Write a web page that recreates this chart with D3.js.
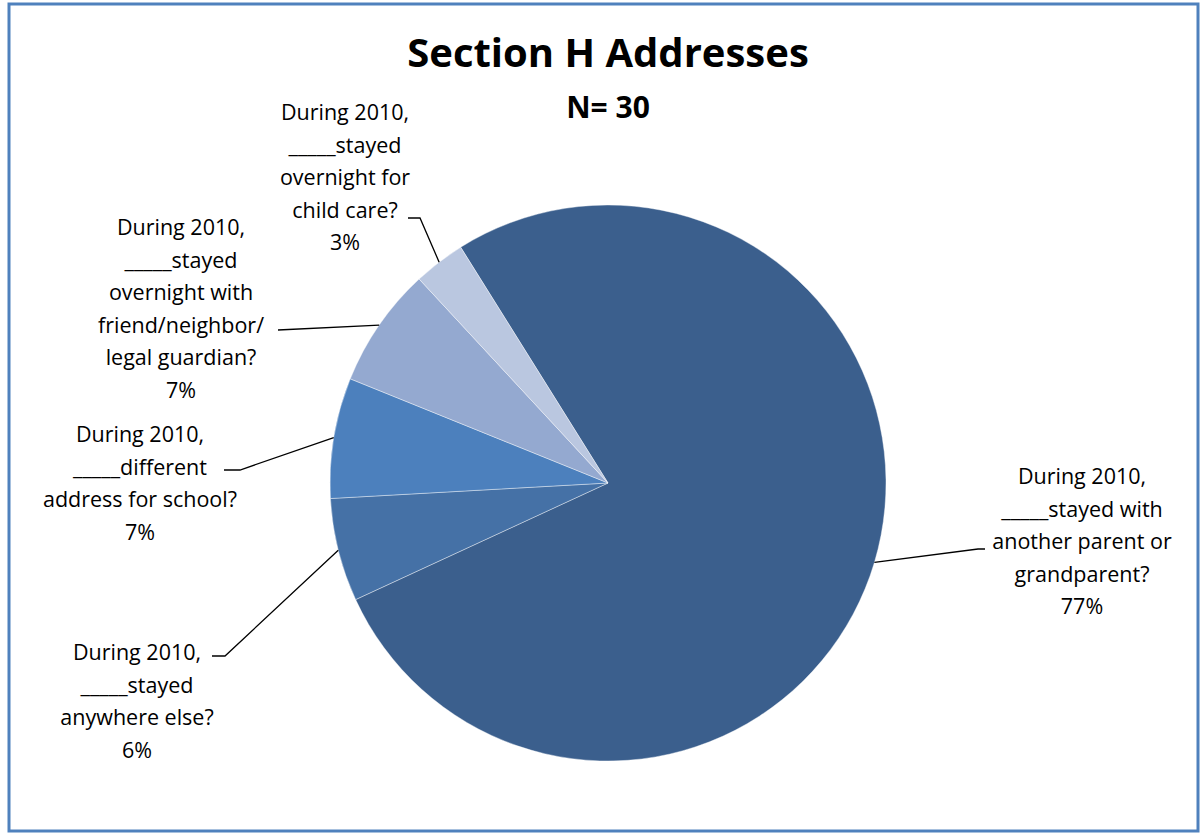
<!DOCTYPE html>
<html>
<head>
<meta charset="utf-8">
<script src="https://cdn.jsdelivr.net/npm/d3@7"></script>
<style>
  body { margin: 0; background: #fff; }
  svg text { font-family: "Open Sans", sans-serif; fill: #000; }
</style>
</head>
<body>
<svg id="chart" width="1203" height="833"></svg>
<script>
// slice order: clockwise from the edge at about 11 o'clock
var categories = [
  ["During 2010,", "_____stayed with", "another parent or", "grandparent?"],
  ["During 2010,", "_____stayed", "anywhere else?"],
  ["During 2010,", "_____different", "address for school?"],
  ["During 2010,", "_____stayed", "overnight with", "friend/neighbor/", "legal guardian?"],
  ["During 2010,", "_____stayed", "overnight for", "child care?"]
];
var values = [77, 6, 7, 7, 3];
var colors = ["#3b5f8d", "#4571a6", "#4c80bd", "#94a9d0", "#bac7e0"];

// label block centres (x, first line y) and leader end points
var labelPos = [
  { x: 1082, y: 484, end: [978, 549], elbow: [985, 549] },
  { x: 137, y: 660, end: [225, 656], elbow: [212, 656] },
  { x: 140, y: 442, end: [240, 470], elbow: [224, 470] },
  { x: 181, y: 235, end: [278, 330], elbow: [278, 330] },
  { x: 345, y: 120, end: [420, 218], elbow: [408, 218] }
];

var svg = d3.select("#chart"),
  width = +svg.attr("width"),
  height = +svg.attr("height");

// outer border
svg.append("rect")
  .attr("x", 9).attr("y", 4)
  .attr("width", width - 14).attr("height", height - 6)
  .attr("fill", "none")
  .attr("stroke", "#4f81bd")
  .attr("stroke-width", 3);

svg.append("text")
  .attr("x", 608).attr("y", 67)
  .attr("text-anchor", "middle")
  .attr("font-size", 40).attr("font-weight", "bold")
  .text("Section H Addresses");

svg.append("text")
  .attr("x", 608).attr("y", 118)
  .attr("text-anchor", "middle")
  .attr("font-size", 30).attr("font-weight", "bold")
  .text("N= 30");

var cx = 608, cy = 483, r = 278;
var start = -32 * Math.PI / 180;

var pie = d3.pie().sort(null)
  .startAngle(start).endAngle(start + 2 * Math.PI)
  .value(d => d);
var arcs = pie(values);
var arc = d3.arc().innerRadius(0).outerRadius(r);

var g = svg.append("g").attr("transform", "translate(" + cx + "," + cy + ")");

g.selectAll("path.slice")
  .data(arcs)
  .enter().append("path")
  .attr("class", "slice")
  .attr("d", arc)
  .attr("fill", (d, i) => colors[i])
  .attr("stroke", "#fff")
  .attr("stroke-width", 0.4);

// leader lines from slice edge to label
arcs.forEach(function (d, i) {
  var a = (d.startAngle + d.endAngle) / 2;
  var px = cx + r * Math.sin(a), py = cy - r * Math.cos(a);
  var p = labelPos[i];
  svg.append("polyline")
    .attr("points", [[px, py], p.end, p.elbow].map(q => q.join(",")).join(" "))
    .attr("fill", "none")
    .attr("stroke", "#000")
    .attr("stroke-width", 1.3);
});

// labels
var lineH = 32.5;
categories.forEach(function (lines, i) {
  var p = labelPos[i];
  var t = svg.append("text")
    .attr("text-anchor", "middle")
    .attr("font-size", 21.5);
  lines.concat([values[i] + "%"]).forEach(function (s, j) {
    t.append("tspan")
      .attr("x", p.x)
      .attr("y", p.y + j * lineH)
      .text(s);
  });
});
</script>
</body>
</html>
